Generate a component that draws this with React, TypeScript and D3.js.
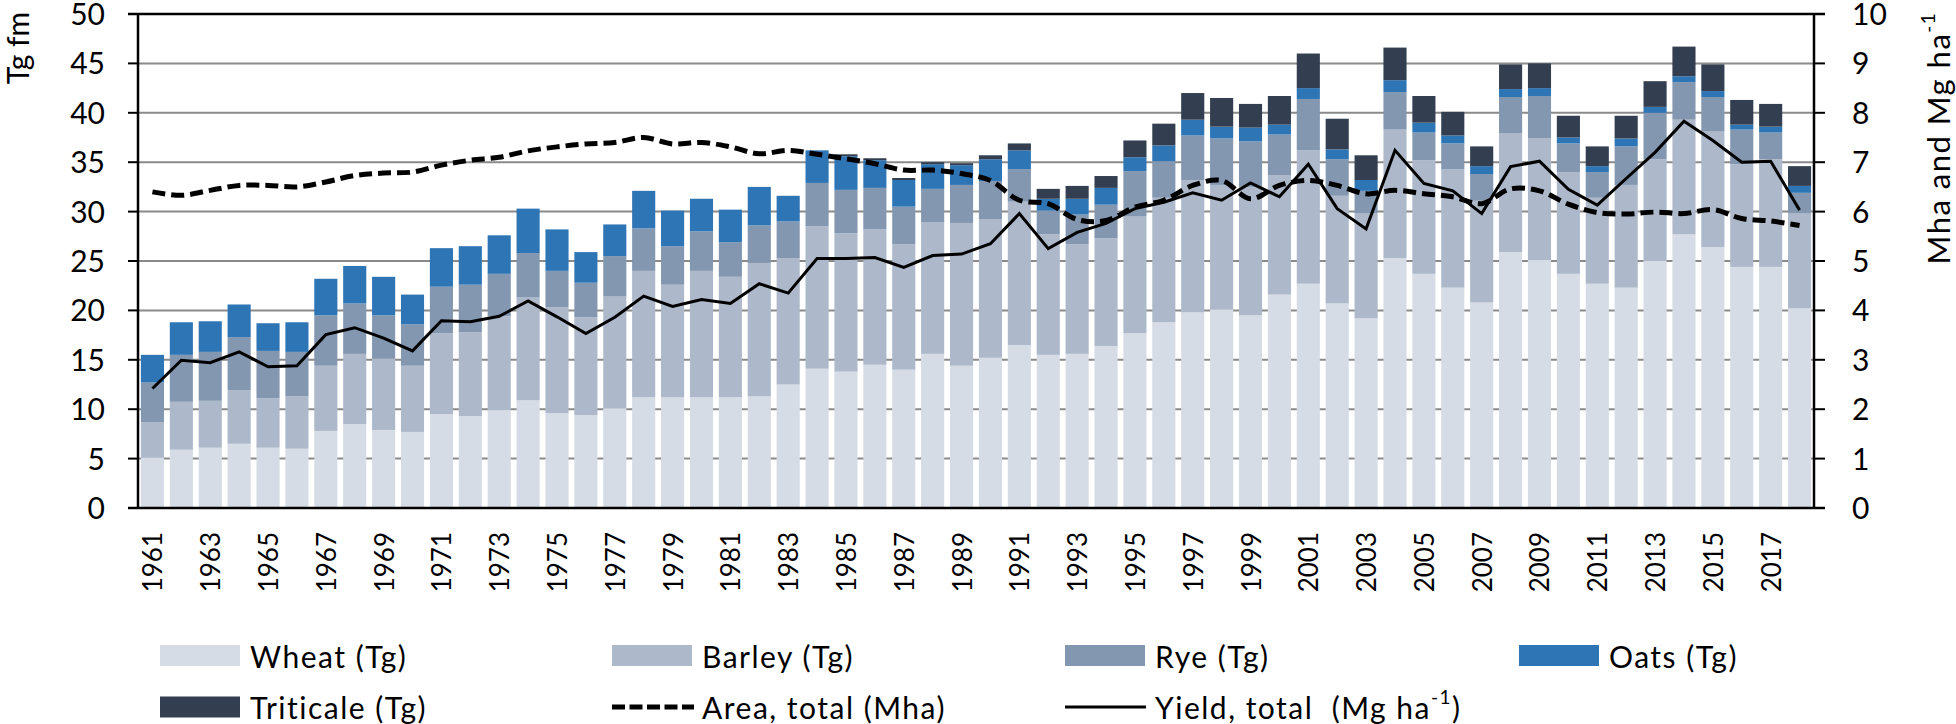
import React from 'react';
import * as d3 from 'd3';

// Years 1961..2018 (categories)
const years: number[] = d3.range(1961, 2019);

// Production by crop, Tg fm (stack segments, bottom to top)
const wheat = [
  5.1, 5.9, 6.1, 6.5, 6.1, 6.0, 7.8, 8.5, 7.9, 7.7,
  9.5, 9.3, 9.9, 10.9, 9.6, 9.4, 10.1, 11.2, 11.2, 11.2,
  11.2, 11.3, 12.5, 14.1, 13.8, 14.5, 14.0, 15.6, 14.4, 15.2,
  16.5, 15.5, 15.6, 16.4, 17.7, 18.8, 19.8, 20.1, 19.5, 21.6,
  22.7, 20.7, 19.2, 25.3, 23.7, 22.3, 20.8, 25.9, 25.1, 23.7,
  22.7, 22.3, 25.0, 27.7, 26.4, 24.4, 24.4, 20.2,
];
const barley = [
  3.6, 4.85, 4.75, 5.4, 5.0, 5.3, 6.6, 7.1, 7.2, 6.7,
  8.2, 8.5, 9.5, 10.4, 10.7, 9.9, 11.3, 12.8, 11.4, 12.8,
  12.2, 13.5, 12.8, 14.4, 14.0, 13.7, 12.7, 13.3, 14.45, 14.0,
  14.5, 12.2, 11.1, 10.9, 11.8, 12.6, 13.4, 12.6, 13.0, 12.1,
  13.5, 10.9, 10.6, 13.0, 11.5, 12.0, 10.3, 12.0, 12.3, 10.3,
  8.7, 10.4, 10.3, 11.6, 11.7, 10.4, 10.9, 9.6,
];
const rye = [
  4.0, 4.75, 4.95, 5.4, 4.8, 4.5, 5.1, 5.1, 4.4, 4.2,
  4.7, 4.8, 4.3, 4.5, 3.7, 3.5, 4.1, 4.3, 3.9, 4.0,
  3.5, 3.8, 3.7, 4.4, 4.4, 4.2, 3.8, 3.4, 3.85, 3.9,
  3.3, 2.4, 3.0, 3.4, 4.6, 3.7, 4.5, 4.7, 4.6, 4.1,
  5.2, 3.7, 2.3, 3.8, 2.8, 2.6, 2.7, 3.7, 4.3, 2.9,
  2.6, 3.9, 4.7, 3.8, 3.5, 3.5, 2.7, 2.1,
];
const oats = [
  2.8, 3.3, 3.1, 3.3, 2.8, 3.0, 3.7, 3.8, 3.9, 3.0,
  3.9, 3.9, 3.9, 4.5, 4.2, 3.1, 3.2, 3.8, 3.6, 3.3,
  3.3, 3.9, 2.6, 3.3, 3.4, 2.8, 2.7, 2.5, 2.0, 2.2,
  1.9, 1.2, 1.6, 1.7, 1.4, 1.6, 1.6, 1.2, 1.4, 1.0,
  1.1, 1.0, 1.1, 1.2, 1.0, 0.8, 0.8, 0.8, 0.8, 0.6,
  0.6, 0.8, 0.6, 0.6, 0.6, 0.5, 0.6, 0.7,
];
const triticale = [
  0, 0, 0, 0, 0, 0, 0, 0, 0, 0,
  0, 0, 0, 0, 0, 0, 0, 0, 0, 0,
  0, 0, 0, 0, 0.2, 0.2, 0.2, 0.2, 0.2, 0.4,
  0.7, 1.0, 1.3, 1.2, 1.7, 2.2, 2.7, 2.9, 2.4, 2.9,
  3.5, 3.1, 2.5, 3.3, 2.7, 2.4, 2.0, 2.5, 2.5, 2.2,
  2.0, 2.3, 2.6, 3.0, 2.7, 2.5, 2.3, 2.0,
];

// Right axis series
const areaTotal = [
  6.4, 6.33, 6.43, 6.53, 6.53, 6.5, 6.6, 6.73, 6.78, 6.8,
  6.94, 7.04, 7.1, 7.23, 7.31, 7.37, 7.4, 7.5, 7.37, 7.4,
  7.31, 7.17, 7.24, 7.16, 7.07, 6.97, 6.84, 6.84, 6.77, 6.63,
  6.23, 6.16, 5.84, 5.82, 6.09, 6.23, 6.53, 6.63, 6.26, 6.53,
  6.63, 6.53, 6.36, 6.43, 6.36, 6.3, 6.16, 6.46, 6.42, 6.15,
  5.98, 5.95, 5.99, 5.96, 6.04, 5.86, 5.81, 5.72,
];
const yieldTotal = [
  2.42, 2.99, 2.94, 3.16, 2.86, 2.88, 3.51, 3.65, 3.44, 3.18,
  3.79, 3.77, 3.88, 4.19, 3.87, 3.53, 3.86, 4.29, 4.08, 4.22,
  4.14, 4.54, 4.35, 5.05, 5.05, 5.07, 4.87, 5.11, 5.14, 5.35,
  5.96, 5.25, 5.58, 5.76, 6.06, 6.19, 6.38, 6.23, 6.58, 6.3,
  6.96, 6.06, 5.65, 7.24, 6.57, 6.42, 5.96, 6.91, 7.02, 6.45,
  6.13, 6.67, 7.2, 7.83, 7.44, 7.0, 7.02, 6.03,
];

const leftTicks = [0, 5, 10, 15, 20, 25, 30, 35, 40, 45, 50];
const rightTicks = [0, 1, 2, 3, 4, 5, 6, 7, 8, 9, 10];
const yearLabels = years.filter((y) => (y - 1961) % 2 === 0);

const keys = ['wheat', 'barley', 'rye', 'oats', 'triticale'];
const colors: Record<string, string> = {
  wheat: '#d6dce5',
  barley: '#adb9ca',
  rye: '#8497b0',
  oats: '#2e75b6',
  triticale: '#333f50',
};

const W = 1956;
const H = 724;
const left = 138;
const right = 1814;
const top = 14;
const bottom = 508;
const font = 'Lato, "Open Sans", sans-serif';

const App: React.FC = () => {
  const table = years.map((y, i) => ({
    year: y,
    wheat: wheat[i],
    barley: barley[i],
    rye: rye[i],
    oats: oats[i],
    triticale: triticale[i],
  }));
  const series = d3.stack<any>().keys(keys)(table);

  const x = d3.scaleBand<number>()
    .domain(years)
    .range([left, right])
    .paddingInner(0.2)
    .paddingOuter(0.1);
  const y = d3.scaleLinear().domain([0, 50]).range([bottom, top]);
  const y2 = d3.scaleLinear().domain([0, 10]).range([bottom, top]);
  const cx = (yr: number) => (x(yr) ?? 0) + x.bandwidth() / 2;

  const areaLine = d3.line<number>()
    .x((_, i) => cx(years[i]))
    .y((d) => y2(d))
    .curve(d3.curveCatmullRom.alpha(0.5));
  const yieldLine = d3.line<number>()
    .x((_, i) => cx(years[i]))
    .y((d) => y2(d));

  const legendRows = [
    { label: 'Wheat (Tg)', type: 'rect', key: 'wheat', x: 160, row: 0 },
    { label: 'Barley (Tg)', type: 'rect', key: 'barley', x: 612, row: 0 },
    { label: 'Rye (Tg)', type: 'rect', key: 'rye', x: 1065, row: 0 },
    { label: 'Oats (Tg)', type: 'rect', key: 'oats', x: 1519, row: 0 },
    { label: 'Triticale (Tg)', type: 'rect', key: 'triticale', x: 160, row: 1 },
    { label: 'Area, total (Mha)', type: 'dash', key: 'area', x: 612, row: 1 },
    { label: 'Yield, total  (Mg ha', type: 'line', key: 'yield', x: 1065, row: 1 },
  ];

  return (
    <svg
      width={W}
      height={H}
      style={{ position: 'absolute', left: 0, top: 0, background: '#fff' }}
      fontFamily={font}
    >
      {/* gridlines */}
      {leftTicks.slice(1, -1).map((t) => (
        <line key={'g' + t} x1={left} x2={right} y1={y(t)} y2={y(t)} stroke="#8a8a8a" strokeWidth={2} />
      ))}
      <line x1={left - 10} x2={right + 11} y1={top} y2={top} stroke="#000" strokeWidth={2.5} />

      {/* stacked bars */}
      {series.map((s) => (
        <g key={s.key} fill={colors[s.key]}>
          {s.map((d, i) => (
            d[1] - d[0] > 0 ? (
              <rect
                key={i}
                x={x(years[i])}
                width={x.bandwidth()}
                y={y(d[1])}
                height={y(d[0]) - y(d[1])}
              />
            ) : null
          ))}
        </g>
      ))}

      {/* lines */}
      <path d={areaLine(areaTotal) || ''} fill="none" stroke="#000" strokeWidth={5} strokeDasharray="13 6" />
      <path d={yieldLine(yieldTotal) || ''} fill="none" stroke="#000" strokeWidth={3} />

      {/* axes */}
      <line x1={left} x2={left} y1={top} y2={bottom} stroke="#000" strokeWidth={2.5} />
      <line x1={right} x2={right} y1={top} y2={bottom} stroke="#000" strokeWidth={2.5} />
      <line x1={left - 10} x2={right + 11} y1={bottom} y2={bottom} stroke="#000" strokeWidth={2.5} />
      {leftTicks.map((t) => (
        <g key={'l' + t}>
          <line x1={left - 10} x2={left} y1={y(t)} y2={y(t)} stroke="#000" strokeWidth={2} />
          <text x={105} y={y(t) + 11} textAnchor="end" fontSize={30}>{t}</text>
        </g>
      ))}
      {rightTicks.map((t) => (
        <g key={'r' + t}>
          <line x1={right} x2={right + 11} y1={y2(t)} y2={y2(t)} stroke="#000" strokeWidth={2} />
          <text x={1852} y={y2(t) + 11} textAnchor="start" fontSize={30}>{t}</text>
        </g>
      ))}
      {yearLabels.map((yr) => (
        <text
          key={'x' + yr}
          transform={`translate(${cx(yr)},532) rotate(-90)`}
          textAnchor="end"
          dominantBaseline="central"
          fontSize={26}
        >
          {yr}
        </text>
      ))}

      {/* axis titles */}
      <text transform="translate(17,48) rotate(-90)" textAnchor="middle" dominantBaseline="central" fontSize={30}>
        Tg fm
      </text>
      <text transform="translate(1938,138) rotate(-90)" textAnchor="middle" dominantBaseline="central" fontSize={31} letterSpacing={1.5}>
        Mha and Mg ha<tspan dy={-11} fontSize={19}>-1</tspan>
      </text>

      {/* legend */}
      {legendRows.map((r) => {
        const cy = r.row === 0 ? 655.5 : 707;
        return (
          <g key={r.label}>
            {r.type === 'rect' && (
              <rect x={r.x} y={cy - 10.5} width={80} height={21} fill={colors[r.key]} />
            )}
            {r.type === 'dash' && (
              <line x1={r.x} x2={r.x + 82} y1={cy} y2={cy} stroke="#000" strokeWidth={5} strokeDasharray="13 4.5" />
            )}
            {r.type === 'line' && (
              <line x1={r.x} x2={r.x + 81} y1={cy} y2={cy} stroke="#000" strokeWidth={3} />
            )}
            <text
              x={r.x + 90}
              y={cy}
              dominantBaseline="central"
              fontSize={30}
              letterSpacing={1.5}
              style={{ whiteSpace: 'pre' }}
            >
              {r.label}
              {r.key === 'yield' && (
                <>
                  <tspan dy={-11} fontSize={19}>-1</tspan>
                  <tspan dy={11}>)</tspan>
                </>
              )}
            </text>
          </g>
        );
      })}
    </svg>
  );
};

export default App;
